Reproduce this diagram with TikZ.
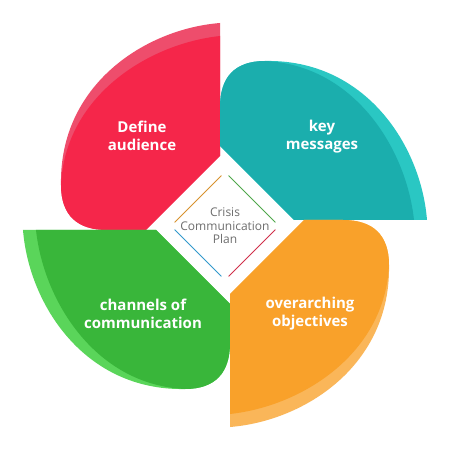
\documentclass[tikz,border=0pt]{standalone}
\usepackage{fontspec}
\setmainfont{Open Sans}
\usetikzlibrary{calc}
\definecolor{redM}{HTML}{F5264A}
\definecolor{redL}{HTML}{EE4D6C}
\definecolor{tealM}{HTML}{1BAEAD}
\definecolor{tealL}{HTML}{2AC7C3}
\definecolor{greenM}{HTML}{39B63A}
\definecolor{greenL}{HTML}{5AD55A}
\definecolor{orangeM}{HTML}{F9A12A}
\definecolor{orangeL}{HTML}{FAB659}
\definecolor{txtgray}{HTML}{6E6E6E}
\definecolor{lineTL}{HTML}{D8922E}
\definecolor{lineTR}{HTML}{4FA84A}
\definecolor{lineBL}{HTML}{3399CC}
\definecolor{lineBR}{HTML}{D0304A}
\newcommand{\petalshape}[3]{%
  \begin{scope}[rotate=#1]
    \fill[#3] (-5,69) -- (-5,202) .. controls (-80,196) and (-166,140) .. (-164,40)
      .. controls (-164,10) and (-148,-5) .. (-118,-5) -- (-79,-5) -- cycle;
    \fill[#2] (-5,69) -- (-5,189) .. controls (-78,181) and (-160,128) .. (-164,40)
      .. controls (-164,10) and (-148,-5) .. (-118,-5) -- (-79,-5) -- cycle;
  \end{scope}}
\tikzset{
  label text/.style={text=white, font=\fontsize{15}{18}\selectfont\bfseries, align=center},
  center text/.style={text=txtgray, font=\fontsize{12}{13.5}\selectfont, align=center},
  diamond line/.style={line width=0.8pt}
}
\begin{document}
\begin{tikzpicture}[x=1pt,y=1pt]
\useasboundingbox (-225,-245) rectangle (225,225);
\fill[white] (-225,-245) rectangle (225,225);
\petalshape{0}{redM}{redL}
\petalshape{-90}{tealM}{tealL}
\petalshape{90}{greenM}{greenL}
\petalshape{180}{orangeM}{orangeL}
\node[label text] (aud) at (-83,89) {Define\\audience};
\node[label text] (key) at (97,88) {key\\messages};
\node[label text] (chan) at (-82,-89) {channels of\\communication};
\node[label text] (obj) at (85,-89) {overarching\\objectives};
\coordinate (dT) at (0,53);
\coordinate (dL) at (-54,-1);
\coordinate (dR) at (54,-1);
\coordinate (dB) at (0,-55);
\draw[diamond line, lineTL] ($(dT)!5pt!(dL)$) -- ($(dL)!5pt!(dT)$);
\draw[diamond line, lineTR] ($(dT)!5pt!(dR)$) -- ($(dR)!5pt!(dT)$);
\draw[diamond line, lineBL] ($(dB)!5pt!(dL)$) -- ($(dL)!5pt!(dB)$);
\draw[diamond line, lineBR] ($(dB)!5pt!(dR)$) -- ($(dR)!5pt!(dB)$);
\node[center text] (plan) at (0,-1) {Crisis\\Communication\\Plan};
\end{tikzpicture}
\end{document}
